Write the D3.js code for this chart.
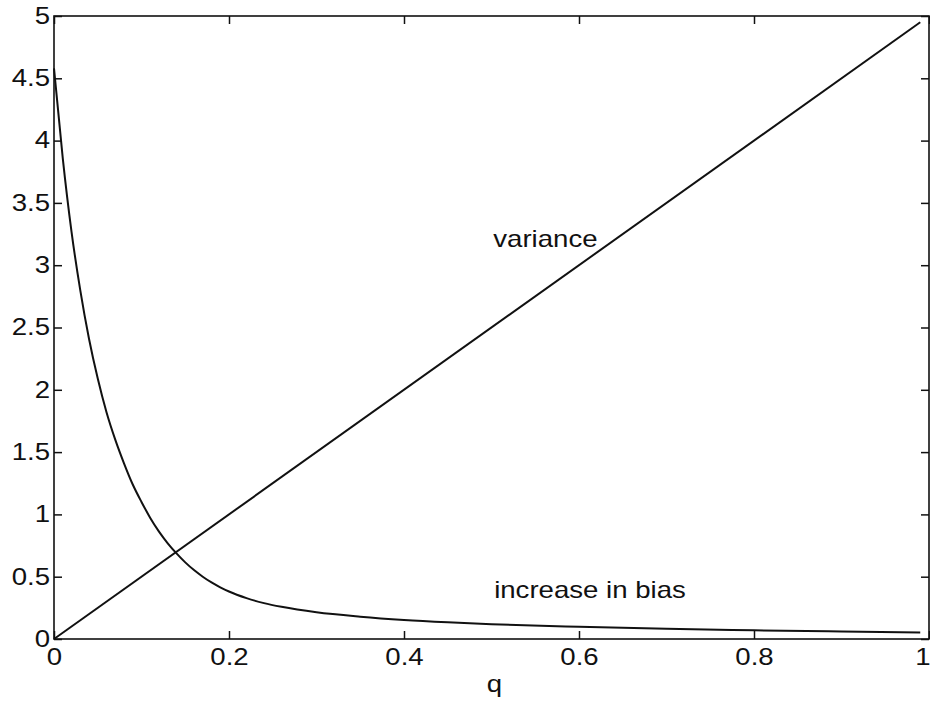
<!DOCTYPE html>
<html>
<head>
<meta charset="utf-8">
<script src="https://cdn.jsdelivr.net/npm/d3@7"></script>
<style>
  html, body { margin: 0; padding: 0; background: #fff; }
  svg { display: block; }
  text { font-family: "Liberation Sans", Arial, Helvetica, sans-serif; fill: #111; }
</style>
</head>
<body>
<svg id="chart" width="930" height="702"></svg>
<script>
// ---- data ----
const qVariance = [0, 0.99];
const varianceValues = [0, 4.95];

const qBias = [0, 0.01, 0.02, 0.03, 0.04, 0.05, 0.06, 0.07, 0.08, 0.09, 0.10, 0.11, 0.12, 0.13, 0.14,
               0.15, 0.16, 0.17, 0.18, 0.19, 0.20, 0.22, 0.24, 0.26, 0.30, 0.35, 0.40, 0.45, 0.50,
               0.60, 0.70, 0.80, 0.90, 0.99];
const biasValues = [4.58, 3.86, 3.27, 2.80, 2.41, 2.09, 1.82, 1.60, 1.41, 1.24, 1.10, 0.972, 0.862, 0.768, 0.687,
                    0.615, 0.553, 0.50, 0.454, 0.415, 0.381, 0.328, 0.288, 0.258, 0.214, 0.179, 0.153, 0.134, 0.119,
                    0.098, 0.082, 0.070, 0.060, 0.053];

const xTicks = [0, 0.2, 0.4, 0.6, 0.8, 1];
const yTicks = [0, 0.5, 1, 1.5, 2, 2.5, 3, 3.5, 4, 4.5, 5];
const xLabel = "q";
const annotations = [
  { text: "variance", q: 0.502, v: 3.15 },
  { text: "increase in bias", q: 0.503, v: 0.33 }
];

// ---- layout ----
const svg = d3.select("#chart");
const mLeft = 54, mRight = 929, mTop = 16, mBottom = 639;
const x = d3.scaleLinear().domain([0, 1]).range([mLeft, mRight]);
const y = d3.scaleLinear().domain([0, 5]).range([mBottom, mTop]);
const ink = "#111";
const fs = 23;      // font size
const sx = 1.2;     // horizontal stretch of the scanned lettering

// frame
svg.append("rect")
  .attr("x", mLeft).attr("y", mTop)
  .attr("width", mRight - mLeft).attr("height", mBottom - mTop)
  .attr("fill", "none").attr("stroke", ink).attr("stroke-width", 1.6);

// axes (inward ticks on all four sides)
const tickLen = 8;
const bottomAxis = d3.axisBottom(x).tickValues(xTicks).tickSizeInner(-tickLen).tickSizeOuter(0)
  .tickPadding(10).tickFormat(d3.format("~g"));
const gB = svg.append("g").attr("transform", `translate(0,${mBottom})`).call(bottomAxis);
const topAxis = d3.axisTop(x).tickValues(xTicks).tickSizeInner(-tickLen).tickSizeOuter(0).tickFormat("");
const gT = svg.append("g").attr("transform", `translate(0,${mTop})`).call(topAxis);
const leftAxis = d3.axisLeft(y).tickValues(yTicks).tickSizeInner(-tickLen).tickSizeOuter(0)
  .tickPadding(4).tickFormat(d3.format("~g"));
const gL = svg.append("g").attr("transform", `translate(${mLeft},0)`).call(leftAxis);
const rightAxis = d3.axisRight(y).tickValues(yTicks).tickSizeInner(-tickLen).tickSizeOuter(0).tickFormat("");
const gR = svg.append("g").attr("transform", `translate(${mRight},0)`).call(rightAxis);

[gB, gT, gL, gR].forEach(g => {
  g.select(".domain").remove();
  g.selectAll(".tick line").attr("stroke", ink).attr("stroke-width", 1.5);
  g.selectAll(".tick text").attr("font-size", fs).style("fill", ink)
    .style("font-family", "'Liberation Sans', Arial, sans-serif");
});
// stretch labels horizontally, keeping their anchors
gB.selectAll(".tick text").attr("transform", `scale(${sx},1)`);
gB.selectAll(".tick text").filter(d => d === 1)
  .attr("text-anchor", "end").attr("x", (930 - mRight) / sx);
gL.selectAll(".tick text").attr("transform", `scale(${sx},1)`).attr("x", -4 / sx);

// x label
svg.append("text")
  .attr("transform", `translate(${(mLeft + mRight) / 2 + 3},692) scale(${sx},1)`)
  .attr("text-anchor", "middle").attr("font-size", fs)
  .text(xLabel);

// lines
const line = d3.line().x(d => x(d[0])).y(d => y(d[1]));
svg.append("path")
  .datum(qVariance.map((q, i) => [q, varianceValues[i]]))
  .attr("d", line)
  .attr("fill", "none").attr("stroke", ink).attr("stroke-width", 2);

svg.append("path")
  .datum(qBias.map((q, i) => [q, biasValues[i]]))
  .attr("d", line.curve(d3.curveMonotoneX))
  .attr("fill", "none").attr("stroke", ink).attr("stroke-width", 2);

// annotations
svg.selectAll("text.anno").data(annotations).join("text")
  .attr("class", "anno")
  .attr("transform", d => `translate(${x(d.q)},${y(d.v)}) scale(${sx},1)`)
  .attr("font-size", fs)
  .text(d => d.text);
</script>
</body>
</html>
